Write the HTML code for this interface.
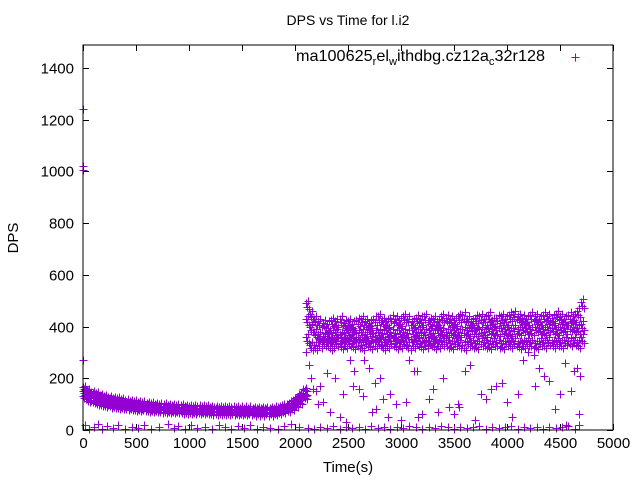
<!DOCTYPE html>
<html><head><meta charset="utf-8"><style>
html,body{margin:0;padding:0;background:#fff;}
svg{display:block;font-family:"Liberation Sans",sans-serif;}
</style></head><body>
<svg id="chart" width="640" height="480" viewBox="0 0 640 480" xmlns="http://www.w3.org/2000/svg">
<rect width="640" height="480" fill="#fff"/>
<text x="348" y="25" font-size="14" text-anchor="middle">DPS vs Time for l.i2</text>
<text x="18" y="238" font-size="15" text-anchor="middle" transform="rotate(-90 18 238)">DPS</text>
<text x="348" y="472" font-size="15" text-anchor="middle">Time(s)</text>
<g id="ticks"></g>
<g id="marks"></g>
<rect x="83" y="45" width="530" height="385" fill="none" stroke="#000" stroke-width="1"/>
<g>
<text x="545" y="61" font-size="16" text-anchor="end" textLength="249" lengthAdjust="spacingAndGlyphs">ma100625<tspan font-size="11" dy="4">r</tspan><tspan dy="-4">el</tspan><tspan font-size="11" dy="4">w</tspan><tspan dy="-4">ithdbg.cz12a</tspan><tspan font-size="11" dy="4">c</tspan><tspan dy="-4">32r128</tspan></text>
<path d="M571.5 57.5h8M575.5 53.5v8" stroke="#9400d3" stroke-width="1"/>
</g>
</svg>
<script>
const xTicks=[0,500,1000,1500,2000,2500,3000,3500,4000,4500,5000];
const yTicks=[0,200,400,600,800,1000,1200,1400];
const p1Start=0, p1Step=40;
const p1Hi=[165,155,148,142,137,133,129,125,122,119,116,113,111,109,107,105,103,101,100,99,98,97,96,95,94,93,92,92,91,91,90,90,89,89,88,88,88,87,87,87,86,86,86,86,86,87,90,95,102,112,125,140,160];
const p1Mid=[150,140,133,128,123,119,115,112,109,106,103,101,99,97,95,94,92,91,90,89,88,87,86,85,84,83,83,82,82,81,81,80,80,79,79,79,78,78,78,78,77,77,77,77,77,78,81,86,93,102,114,128,145];
const p1Lo=[130,120,113,108,104,100,97,94,92,90,88,86,84,83,82,80,79,78,77,76,75,74,74,73,72,72,71,71,70,70,69,69,69,68,68,68,67,67,67,67,66,66,66,66,66,67,70,74,80,88,98,112,128];
const p2Start=2100, p2Step=40;
const p2Hi=[490,450,430,420,415,410,425,420,430,415,420,410,425,430,420,415,430,440,425,420,435,430,425,440,430,420,435,430,440,425,430,420,440,435,430,425,440,445,430,420,435,440,430,445,425,435,440,430,445,450,440,435,430,445,440,430,445,440,435,450,440,430,445,440,460,495];
const p2Mid=[430,400,380,370,365,370,375,380,370,375,380,370,375,380,370,385,375,380,375,385,380,375,385,380,375,385,380,390,380,385,375,390,385,380,390,385,380,390,385,395,385,390,380,395,390,385,395,390,385,395,390,400,395,390,400,395,390,400,395,390,400,395,405,400,395,410];
const p2Lo=[360,330,330,340,345,340,340,345,335,340,345,335,340,330,345,335,340,345,330,340,345,335,340,345,330,340,345,335,340,345,335,340,345,340,335,345,340,330,345,340,335,345,340,335,345,340,335,345,340,345,335,340,345,340,335,345,340,350,340,345,340,350,345,350,340,360];
const outX=[0,0,0,0,2100,2130,2150,2170,2200,2220,2260,2300,2330,2380,2420,2480,2520,2560,2600,2640,2700,2730,2760,2800,2830,2880,2900,2950,3000,3050,3080,3120,3160,3200,3260,3300,3350,3400,3450,3500,3540,3600,3650,3700,3750,3800,3850,3900,3950,4000,4050,4100,4150,4200,4260,4300,4350,4400,4450,4500,4550,4600,4630,4660,4680,4690,2240,2350,2450,2550,2650,2750,2850,3150,3250,3550,3850,4250,4560];
const outY=[1241,1020,1005,270,300,250,200,160,150,100,110,220,70,200,50,30,270,230,160,130,240,70,80,200,120,50,140,100,40,110,270,230,50,60,120,160,70,200,90,60,100,230,250,40,140,120,160,170,180,110,50,140,270,300,170,240,210,190,80,140,260,150,230,240,60,210,170,310,140,170,270,180,340,230,330,90,320,290,20];
const zeroX=[20,60,100,140,180,230,280,330,400,460,520,580,640,720,800,860,900,960,1020,1080,1150,1220,1280,1340,1400,1460,1520,1580,1640,1700,1760,1840,1900,1960,2040,2120,2180,2240,2300,2360,2420,2480,2540,2600,2660,2720,2780,2840,2900,2960,3020,3080,3140,3200,3260,3320,3380,3440,3500,3560,3620,3680,3740,3800,3860,3920,3980,4040,4100,4160,4220,4280,4340,4400,4460,4520,4580,4640,4680];
const zeroY=[20,5,10,25,5,15,8,20,5,12,8,18,5,10,25,8,15,5,20,8,12,5,18,10,5,15,8,20,5,12,8,5,15,25,10,8,5,12,8,15,5,10,8,12,5,15,8,10,5,12,8,15,10,5,12,8,15,10,5,12,8,10,15,5,12,8,10,15,5,12,8,10,5,12,8,10,15,5,20];
const X0=83,X1=613,Y0=430,YPX=(430-68)/1400,XMAX=5000;
const sx=v=>X0+(v/XMAX)*(X1-X0);
const sy=v=>Y0-v*YPX;
const NS='http://www.w3.org/2000/svg';
const tg=document.getElementById('ticks');
xTicks.forEach(v=>{
  const x=Math.round(sx(v))+0.5;
  const p=document.createElementNS(NS,'path');
  
  
  p.setAttribute('d',`M${x} 430v-6M${x} 45v6`);p.setAttribute('stroke','#000');tg.appendChild(p);
  const t=document.createElementNS(NS,'text');
  
  
  t.setAttribute('x',x);t.setAttribute('y',448);t.setAttribute('font-size','15');t.setAttribute('text-anchor','middle');t.textContent=v;tg.appendChild(t);
});
yTicks.forEach(v=>{
  const y=Math.round(sy(v))+0.5;
  const p=document.createElementNS(NS,'path');
  
  
  p.setAttribute('d',`M83 ${y}h6M613 ${y}h-6`);p.setAttribute('stroke','#000');tg.appendChild(p);
  const t=document.createElementNS(NS,'text');
  
  
  t.setAttribute('x',74);t.setAttribute('y',y+5);t.setAttribute('font-size','15');t.setAttribute('text-anchor','end');t.textContent=v;tg.appendChild(t);
});
let d='';
const plus=(tv,v)=>{const x=Math.round(sx(tv))+0.5,y=Math.round(sy(v))+0.5;d+=`M${x-4} ${y}h8M${x} ${y-4}v8`;};
const subDx=[0,10,20,30],subDy1=[0,-6,4,-10],subDy2=[0,-14,10,-22];
[p1Hi,p1Mid,p1Lo].forEach(arr=>arr.forEach((v,i)=>subDx.forEach((dx,k)=>plus(p1Start+i*p1Step+dx,v+subDy1[k]))));
[p2Hi,p2Mid,p2Lo].forEach(arr=>arr.forEach((v,i)=>subDx.forEach((dx,k)=>plus(p2Start+i*p2Step+dx,v+subDy2[k]))));
outX.forEach((v,i)=>plus(v,outY[i]));
zeroX.forEach((v,i)=>plus(v,zeroY[i]));
const path=document.createElementNS(NS,'path');


path.setAttribute('d',d);path.setAttribute('stroke','#9400d3');path.setAttribute('stroke-width','1');path.setAttribute('fill','none');
document.getElementById('marks').appendChild(path);
</script>
</body></html>
